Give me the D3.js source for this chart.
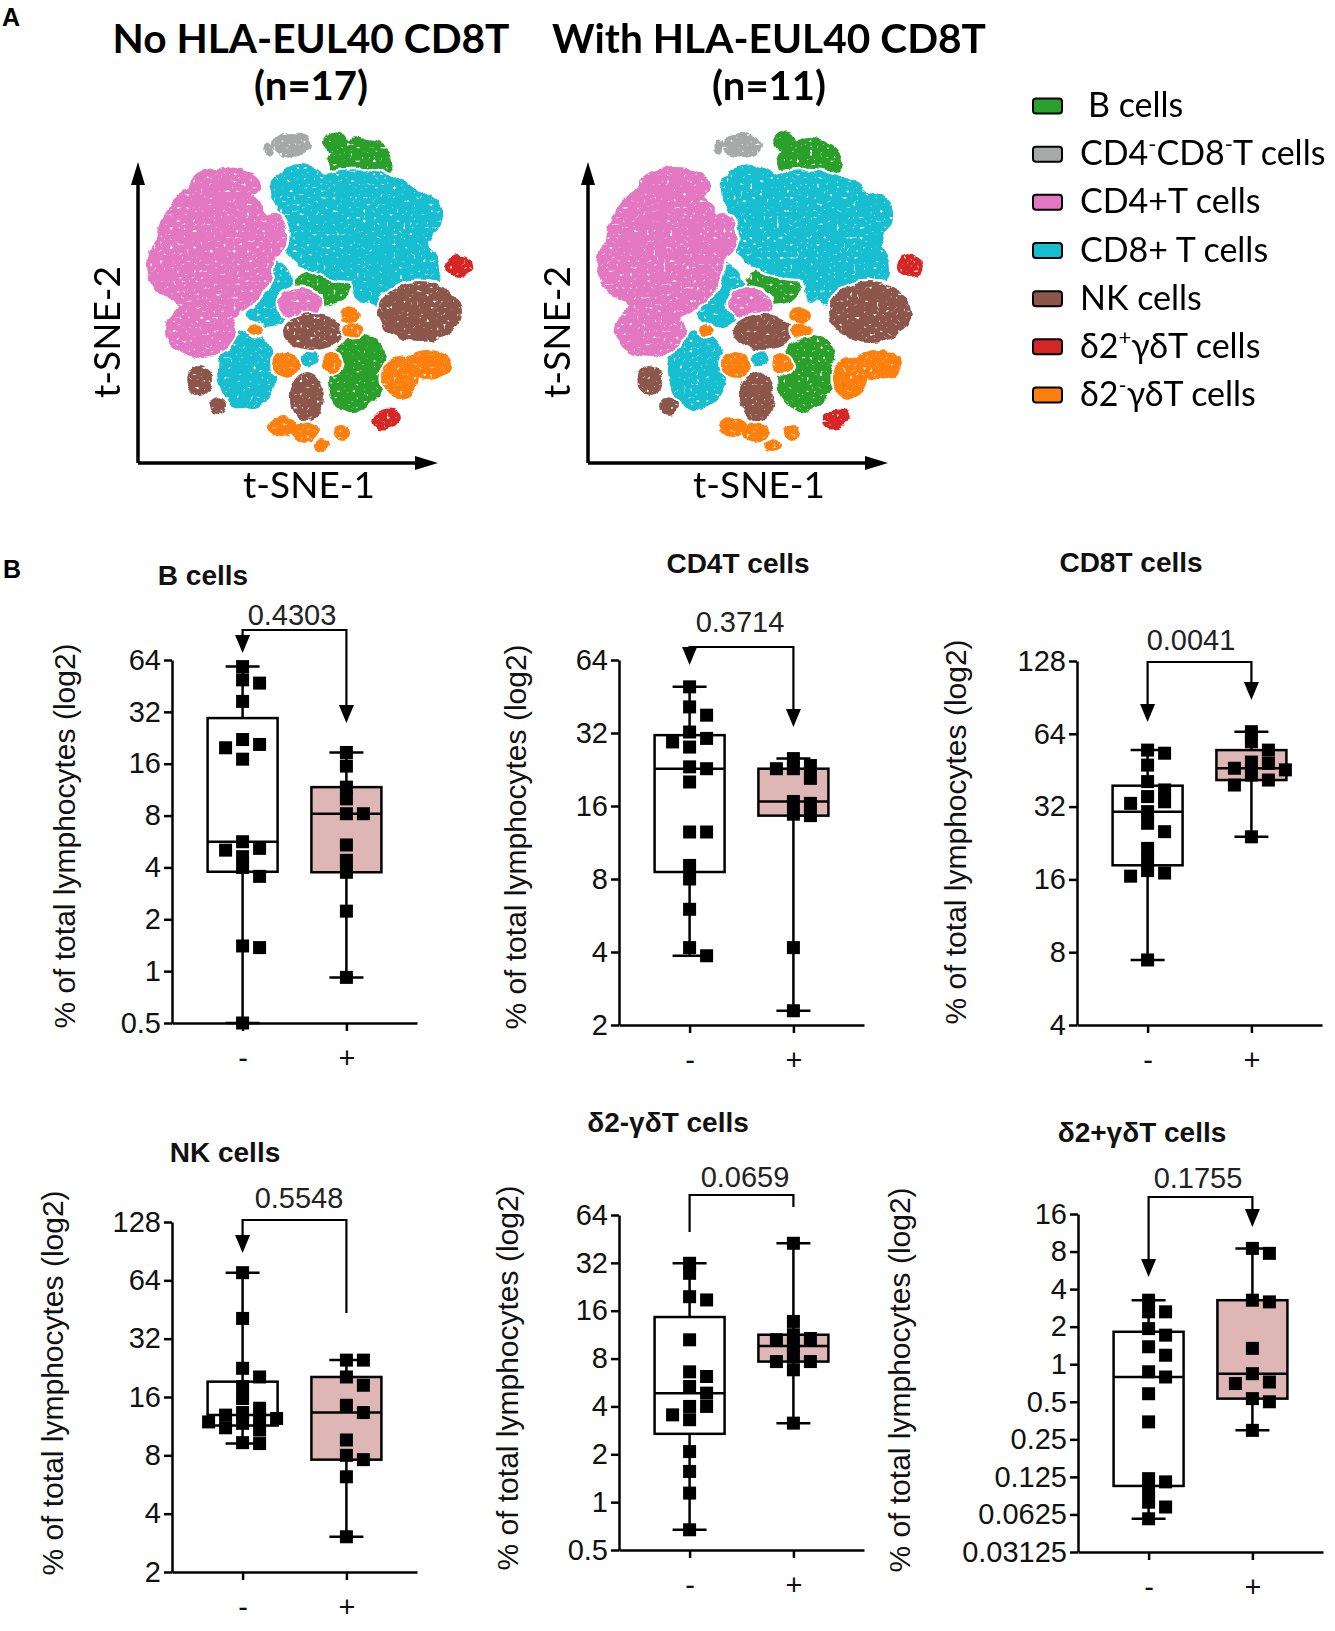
<!DOCTYPE html>
<html>
<head>
<meta charset="utf-8">
<script src="https://cdn.jsdelivr.net/npm/d3@7"></script>
<style>
  body { margin: 0; background: #fff; }
  svg { display: block; }
</style>
</head>
<body>
<svg id="fig" width="1335" height="1631"></svg>
<script>
// ---------------- data ----------------
const cellTypes = ["B cells", "CD4-CD8-T cells", "CD4+T cells", "CD8+ T cells", "NK cells", "δ2+γδT cells", "δ2-γδT cells"];
// legend labels, [text, superscript?]
const legendLabels = [
  [["B cells"]],
  [["CD4"], ["-", 1], ["CD8"], ["-", 1], ["T cells"]],
  [["CD4+T cells"]],
  [["CD8+ T cells"]],
  [["NK cells"]],
  [["δ2"], ["+", 1], ["γδT cells"]],
  [["δ2"], ["-", 1], ["γδT cells"]]
];

// t-SNE clusters: [cell type index, tSNE1, tSNE2, spread1, spread2, tilt]
const tsneClusters = [
  [1, 51.3, 106, 6.7, 4, 0], [1, 43.3, 105, 1.5, 2.5, 0],
  [0, 74, 100.3, 11, 8, 0], [0, 65.7, 107, 4, 3.5, 0],
  [3, 72.3, 79.3, 26.7, 18.3, 0], [3, 85.7, 64.3, 15, 13.3, 0], [3, 54, 91, 10, 8.3, 0],
  [3, 95.7, 82.7, 6, 7, 0], [3, 74.7, 58.3, 2.7, 4.7, 0],
  [2, 25.7, 71, 20, 23.3, 0], [2, 20.7, 44.3, 11.7, 9.3, 0], [2, 12.3, 66, 9.3, 11.7, 0],
  [2, 45, 76, 4.7, 7.3, 0], [2, 29, 92.7, 12, 6, 0],
  [3, 43, 56.7, 9, 11.7, 0],
  [0, 61.3, 58.7, 9.7, 6, 0],
  [2, 54, 53, 7.3, 5.3, 0],
  [5, 107.3, 65.7, 4.3, 3.7, 0],
  [4, 94, 50.3, 14, 10, 0],
  [4, 58.3, 43.7, 10, 6, 0],
  [6, 70.7, 49.3, 3.3, 2.7, 0], [6, 71.3, 44.3, 3.7, 2.3, 0],
  [0, 73, 30, 9.7, 13.3, 15],
  [6, 87.3, 28.3, 6, 7, 0], [6, 96.7, 32.7, 8, 5, 0],
  [3, 36.3, 31, 10, 13.3, 0],
  [4, 20.7, 27.7, 4.3, 5, 0], [4, 26.7, 19, 3, 3, 0],
  [4, 56.3, 22, 5.7, 8.3, 0],
  [6, 48.3, 12, 4.7, 3.3, 0], [6, 55.7, 10.3, 4.3, 3.3, 0], [6, 61.3, 6, 2.7, 2, 0], [6, 68, 10, 2.7, 2.7, 0],
  [6, 49.3, 32.7, 4.7, 4.3, 0], [6, 64.7, 33.3, 3.3, 3.3, 0],
  [5, 82.7, 14.7, 4.7, 3.3, -20],
  [3, 57.3, 35, 2.7, 2.7, 0],
  [6, 39.3, 44.3, 2.3, 2, 0]
];
const tsneTitles = [["No HLA-EUL40 CD8T", "(n=17)"], ["With HLA-EUL40 CD8T", "(n=11)"]];

// panel B: % of total lymphocytes per donor
const groupLabels = ["-", "+"];
const panelTitles = ["B cells", "CD4T cells", "CD8T cells", "NK cells", "δ2-γδT cells", "δ2+γδT cells"];
const pValues = ["0.4303", "0.3714", "0.0041", "0.5548", "0.0659", "0.1755"];

const bNeg = [58.6, 49.1, 47.0, 36.8, 22.1, 20.7, 19.8, 17.0, 5.64, 5.16, 5.04, 4.62, 4.0, 3.55, 1.40, 1.37, 0.50];
const bPos = [18.6, 15.5, 11.7, 10.0, 8.2, 8.2, 5.4, 4.4, 3.75, 2.23, 0.92];
const cd4Neg = [49.6, 41.0, 37.9, 32.3, 30.4, 29.4, 28.0, 23.2, 22.8, 20.1, 12.5, 12.5, 9.1, 8.0, 6.0, 4.17, 3.86];
const cd4Pos = [25.1, 23.5, 22.8, 22.8, 20.8, 16.7, 16.4, 14.8, 14.6, 4.17, 2.29];
const cd8Neg = [54.8, 53.2, 47.5, 40.6, 37.5, 35.2, 33.5, 33.0, 30.5, 27.3, 25.2, 21.5, 19.2, 17.4, 17.0, 16.5, 7.43];
const cd8Pos = [65.3, 59.3, 54.8, 48.9, 48.3, 46.1, 45.4, 43.2, 41.2, 39.3, 24.0];
const nkNeg = [70.1, 40.7, 22.5, 20.3, 18.1, 15.7, 14.0, 13.3, 12.9, 12.4, 12.4, 11.9, 11.7, 11.1, 10.8, 9.3, 9.2];
const nkPos = [24.8, 24.8, 20.3, 18.4, 14.5, 13.3, 9.6, 8.0, 7.6, 6.2, 3.04];
const d2mNeg = [31.8, 27.5, 19.6, 18.7, 10.5, 6.6, 6.17, 5.34, 4.85, 4.0, 4.0, 3.54, 3.3, 2.08, 1.56, 1.14, 0.67];
const d2mPos = [42.5, 13.7, 11.3, 10.7, 10.5, 9.6, 8.2, 7.66, 7.66, 6.8, 3.14];
const d2pNeg = [3.26, 2.63, 2.63, 1.93, 1.71, 1.38, 1.18, 0.87, 0.79, 0.58, 0.345, 0.121, 0.114, 0.0975, 0.0784, 0.0717, 0.0577];
const d2pPos = [8.48, 7.74, 3.26, 3.16, 1.34, 0.84, 0.72, 0.70, 0.53, 0.50, 0.295];

const ticksB = [0.5, 1, 2, 4, 8, 16, 32, 64];
const ticksCD4 = [2, 4, 8, 16, 32, 64];
const ticksCD8 = [4, 8, 16, 32, 64, 128];
const ticksNK = [2, 4, 8, 16, 32, 64, 128];
const ticksD2m = [0.5, 1, 2, 4, 8, 16, 32, 64];
const ticksD2p = [0.03125, 0.0625, 0.125, 0.25, 0.5, 1, 2, 4, 8, 16];

const panelSeries = [[bNeg, bPos], [cd4Neg, cd4Pos], [cd8Neg, cd8Pos], [nkNeg, nkPos], [d2mNeg, d2mPos], [d2pNeg, d2pPos]];
const panelTicks = [ticksB, ticksCD4, ticksCD8, ticksNK, ticksD2m, ticksD2p];

// ---------------- styles / layout ----------------
const cellColors = ["#2ca02c", "#a5aaa8", "#e377c2", "#17becf", "#8c564b", "#d62728", "#ff7f0e"];
const boxFills = ["#ffffff", "#dfb6b6"];
const sansA = "Lato, 'Open Sans', sans-serif";
const sansB = "Liberation Sans, Arial, sans-serif";

const svg = d3.select("#fig");
svg.append("rect").attr("width", 1335).attr("height", 1631).attr("fill", "#fff");

const defs = svg.append("defs");
const flt = defs.append("filter").attr("id", "speckle")
  .attr("filterUnits", "userSpaceOnUse").attr("x", 0).attr("y", 100).attr("width", 1000).attr("height", 400);
flt.append("feTurbulence").attr("type", "fractalNoise").attr("baseFrequency", 0.08)
  .attr("numOctaves", 2).attr("seed", 5).attr("result", "warp");
flt.append("feDisplacementMap").attr("in", "SourceGraphic").attr("in2", "warp")
  .attr("scale", 7).attr("xChannelSelector", "R").attr("yChannelSelector", "G").attr("result", "rough");
flt.append("feTurbulence").attr("type", "fractalNoise").attr("baseFrequency", 0.3)
  .attr("numOctaves", 1).attr("seed", 11).attr("result", "grain");
flt.append("feColorMatrix").attr("in", "grain").attr("type", "matrix")
  .attr("values", "0 0 0 0 0  0 0 0 0 0  0 0 0 0 0  10 0 0 0 -2.4").attr("result", "holes");
flt.append("feComposite").attr("in", "rough").attr("in2", "holes").attr("operator", "in");

// panel letters
svg.append("text").attr("x", 2).attr("y", 26).text("A")
  .attr("font-family", sansB).attr("font-weight", "bold").attr("font-size", 25);
svg.append("text").attr("x", 3).attr("y", 578).text("B")
  .attr("font-family", sansB).attr("font-weight", "bold").attr("font-size", 25);

// ---------------- panel A: t-SNE maps ----------------
const clustersByType = d3.groups(tsneClusters, d => d[0]);
const tsneOrigins = [[138, 463, 311], [588, 463, 769]];
tsneOrigins.forEach(([ox, oy, cx], i) => {
  const x = d3.scaleLinear().domain([0, 100]).range([ox, ox + 300]);
  const y = d3.scaleLinear().domain([0, 100]).range([oy, oy - 300]);

  svg.append("text").attr("x", cx).attr("y", 53).attr("text-anchor", "middle")
    .attr("font-family", sansA).attr("font-weight", "bold").attr("font-size", 40)
    .attr("textLength", i === 0 ? 397 : 434).attr("lengthAdjust", "spacingAndGlyphs")
    .text(tsneTitles[i][0]);
  svg.append("text").attr("x", cx).attr("y", 100).attr("text-anchor", "middle")
    .attr("font-family", sansA).attr("font-weight", "bold").attr("font-size", 40)
    .text(tsneTitles[i][1]);

  const cloud = svg.append("g").attr("filter", "url(#speckle)");
  const place = sel => sel
    .attr("transform", d => `translate(${x(d[1])},${y(d[2])}) rotate(${d[5]})`)
    .attr("rx", d => x(d[3]) - x(0))
    .attr("ry", d => y(0) - y(d[4]));
  // each population cuts a thin white gap into what was drawn before it
  clustersByType.forEach(([type, rows]) => {
    const grp = cloud.append("g");
    grp.selectAll("ellipse.gap").data(rows).join("ellipse").attr("class", "gap").call(place)
      .attr("fill", "#fff").attr("stroke", "#fff").attr("stroke-width", 5);
    grp.selectAll("ellipse.fill").data(rows).join("ellipse").attr("class", "fill").call(place)
      .attr("fill", cellColors[type]);
  });

  // arrows
  const ax = svg.append("g");
  ax.append("path").attr("d", `M${ox},${oy}V180M${ox},${oy}H${ox + 282}`)
    .attr("stroke", "#000").attr("stroke-width", 3.5).attr("fill", "none");
  ax.append("path").attr("d", `M${ox},${oy - 301}L${ox - 7},${oy - 278}L${ox + 7},${oy - 278}Z`).attr("fill", "#000");
  ax.append("path").attr("d", `M${ox + 300},${oy}L${ox + 277},${oy - 7}L${ox + 277},${oy + 7}Z`).attr("fill", "#000");

  svg.append("text").attr("transform", `translate(${ox - 31},332) rotate(-90)`)
    .attr("text-anchor", "middle").attr("dy", "0.35em")
    .attr("font-family", sansA).attr("font-size", 37).text("t-SNE-2");
  svg.append("text").attr("x", ox + 171).attr("y", 498).attr("text-anchor", "middle")
    .attr("font-family", sansA).attr("font-size", 37).text("t-SNE-1");
});

// legend
const legY = d3.scalePoint().domain(cellTypes).range([106, 395]);
const leg = svg.append("g");
cellTypes.forEach((c, i) => {
  const cy = legY(c);
  leg.append("rect").attr("x", 1033).attr("y", cy - 7.5).attr("width", 29).attr("height", 15)
    .attr("rx", 3).attr("fill", cellColors[i]).attr("stroke", "#000").attr("stroke-width", 2);
  const t = leg.append("text").attr("x", i === 0 ? 1088 : 1080).attr("y", cy + 11)
    .attr("font-family", sansA).attr("font-size", 34);
  legendLabels[i].forEach(([s, sup]) => {
    const ts = t.append("tspan").text(s);
    if (sup) ts.attr("baseline-shift", "super").attr("font-size", 22);
  });
});

// ---------------- panel B: box plots ----------------
const panelLayout = [
  {ax: 172,  top: 660,  bottom: 1023, tx: 203,  ty: 585,  px: 292,  py: 625,  by: 630,  tips: [653, 723],   arrows: [1, 1], ylx: 64,  yly: 836},
  {ax: 619,  top: 660,  bottom: 1025, tx: 738,  ty: 573,  px: 740,  py: 632,  by: 647,  tips: [665, 727],   arrows: [1, 1], ylx: 515, yly: 837},
  {ax: 1077, top: 661,  bottom: 1025, tx: 1131, ty: 572,  px: 1191, py: 650,  by: 662,  tips: [722, 700],   arrows: [1, 1], ylx: 955, yly: 832},
  {ax: 172,  top: 1222, bottom: 1572, tx: 225,  ty: 1162, px: 299,  py: 1208, by: 1220, tips: [1253, 1313], arrows: [1, 0], ylx: 52,  yly: 1383},
  {ax: 619,  top: 1215, bottom: 1550, tx: 668,  ty: 1132, px: 745,  py: 1187, by: 1195, tips: [1232, 1207], arrows: [0, 0], ylx: 507, yly: 1378},
  {ax: 1078, top: 1214, bottom: 1552, tx: 1142, ty: 1142, px: 1198, py: 1188, by: 1197, tips: [1277, 1227], arrows: [1, 1], ylx: 899, yly: 1380}
];

// GraphPad style quartiles
function quantile(sorted, p) {
  const n = sorted.length, pos = p * (n + 1);
  if (pos <= 1) return sorted[0];
  if (pos >= n) return sorted[n - 1];
  const lo = Math.floor(pos), f = pos - lo;
  return sorted[lo - 1] + f * (sorted[lo] - sorted[lo - 1]);
}

// simple beeswarm so squares don't sit right on top of each other
function swarm(ys, size, step) {
  const placed = [];
  const order = ys.map((v, i) => i).sort((a, b) => ys[a] - ys[b]);
  const dx = new Array(ys.length);
  order.forEach(i => {
    for (let k = 0; k < 20; k++) {
      const off = (k % 2 ? 1 : -1) * Math.ceil(k / 2) * step;
      if (!placed.some(p => Math.abs(p[0] - off) < size && Math.abs(p[1] - ys[i]) < size) || k === 19) {
        dx[i] = off; placed.push([off, ys[i]]); break;
      }
    }
  });
  return dx;
}

panelLayout.forEach((L, pi) => {
  const g = svg.append("g");
  const ticks = panelTicks[pi];
  const y = d3.scaleLog().base(2).domain([ticks[0], ticks[ticks.length - 1]]).range([L.bottom, L.top]);
  const x = d3.scalePoint().domain(groupLabels).range([L.ax, L.ax + 245]).padding(0.68);

  const ya = g.append("g").attr("transform", `translate(${L.ax},0)`)
    .call(d3.axisLeft(y).tickValues(ticks).tickFormat(d => String(d)).tickSize(8).tickSizeOuter(0).tickPadding(3));
  const xa = g.append("g").attr("transform", `translate(0,${L.bottom})`)
    .call(d3.axisBottom(x).tickSize(8).tickSizeOuter(0).tickPadding(16));
  [ya, xa].forEach(a => {
    a.attr("font-family", sansB);
    a.select(".domain").attr("stroke-width", 2.5);
    a.selectAll(".tick line").attr("stroke-width", 2.5);
    a.selectAll(".tick text").attr("font-family", sansB).attr("font-size", 29).attr("fill", "#111");
  });

  g.append("text").attr("transform", `translate(${L.ylx},${L.yly}) rotate(-90)`)
    .attr("text-anchor", "middle").attr("dy", "0.35em")
    .attr("font-family", sansB).attr("font-size", 30).attr("fill", "#111")
    .text("% of total lymphocytes (log2)");
  g.append("text").attr("x", L.tx).attr("y", L.ty).attr("text-anchor", "middle")
    .attr("font-family", sansB).attr("font-weight", "bold").attr("font-size", 28).attr("fill", "#111")
    .text(panelTitles[pi]);

  // comparison bracket
  const x0 = x(groupLabels[0]), x1 = x(groupLabels[1]);
  g.append("path")
    .attr("d", `M${x0},${L.tips[0] - (L.arrows[0] ? 14 : 0)}V${L.by}H${x1}V${L.tips[1] - (L.arrows[1] ? 14 : 0)}`)
    .attr("fill", "none").attr("stroke", "#000").attr("stroke-width", 2.2);
  [x0, x1].forEach((gx, k) => {
    if (!L.arrows[k]) return;
    const t = L.tips[k];
    g.append("path").attr("d", `M${gx},${t}L${gx - 7.5},${t - 18}L${gx + 7.5},${t - 18}Z`).attr("fill", "#000");
  });
  g.append("text").attr("x", L.px).attr("y", L.py).attr("text-anchor", "middle")
    .attr("font-family", sansB).attr("font-size", 29).attr("fill", "#222").text(pValues[pi]);

  // boxes
  panelSeries[pi].forEach((vals, gi) => {
    const gx = x(groupLabels[gi]);
    const s = vals.slice().sort((a, b) => a - b);
    const q1 = quantile(s, 0.25), med = quantile(s, 0.5), q3 = quantile(s, 0.75);
    const lo = s[0], hi = s[s.length - 1];
    const bg = g.append("g");
    bg.append("line").attr("x1", gx).attr("x2", gx).attr("y1", y(lo)).attr("y2", y(hi))
      .attr("stroke", "#000").attr("stroke-width", 2.5);
    [lo, hi].forEach(v => bg.append("line").attr("x1", gx - 17).attr("x2", gx + 17)
      .attr("y1", y(v)).attr("y2", y(v)).attr("stroke", "#000").attr("stroke-width", 2.5));
    bg.append("rect").attr("x", gx - 35).attr("width", 70)
      .attr("y", y(q3)).attr("height", y(q1) - y(q3))
      .attr("fill", boxFills[gi]).attr("stroke", "#000").attr("stroke-width", 2.5);
    bg.append("line").attr("x1", gx - 35).attr("x2", gx + 35).attr("y1", y(med)).attr("y2", y(med))
      .attr("stroke", "#000").attr("stroke-width", 2.5);

    const ys = vals.map(v => y(v));
    const dx = swarm(ys, 10, 8.5);
    bg.selectAll("rect.pt").data(vals).join("rect").attr("class", "pt")
      .attr("x", (v, i) => gx + dx[i] - 6.5).attr("y", (v, i) => ys[i] - 6.5)
      .attr("width", 13).attr("height", 13).attr("fill", "#000");
  });
});
</script>
</body>
</html>
